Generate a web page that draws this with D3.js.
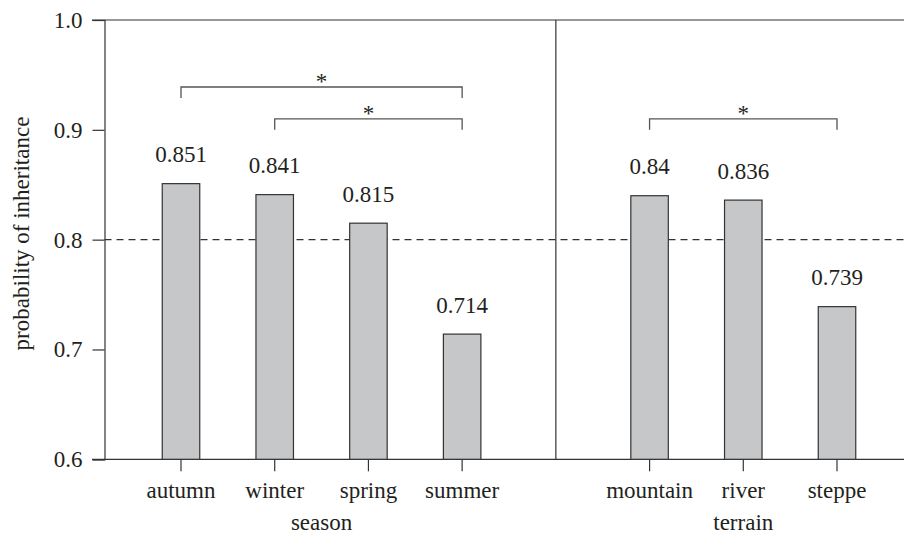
<!DOCTYPE html>
<html>
<head>
<meta charset="utf-8">
<script src="https://cdn.jsdelivr.net/npm/d3@7"></script>
<style>
  body { margin: 0; background: #fff; }
</style>
</head>
<body>
<div id="chart"></div>
<script>
// Inheritance probability by season and by terrain

var categories = ["autumn", "winter", "spring", "summer", "", "mountain", "river", "steppe"];
var seasons = ["autumn", "winter", "spring", "summer"];
var seasonValues = [0.851, 0.841, 0.815, 0.714];
var terrains = ["mountain", "river", "steppe"];
var terrainValues = [0.84, 0.836, 0.739];
var yTicks = [0.6, 0.7, 0.8, 0.9, 1.0];
var threshold = 0.8;
// significance brackets: [from, to]
var brackets = [["autumn", "summer"], ["winter", "summer"], ["mountain", "steppe"]];
var bracketLevels = [0.939, 0.910, 0.910];

var FONT = "'Liberation Serif', Tinos, 'Times New Roman', serif";
var FS = 23;
var width = 904, height = 535;
var svg = d3.select("#chart").append("svg")
  .attr("width", width)
  .attr("height", height)
  .style("font-family", FONT);

var x = d3.scalePoint().domain(categories).range([181, 837]);
var y = d3.scaleLinear().domain([0.6, 1.0]).range([459.3, 20]);
var barW = 37.5;
var axisX = 104.5;

var bars = seasons.map(function(s, i) { return {name: s, value: seasonValues[i]}; })
  .concat(terrains.map(function(t, i) { return {name: t, value: terrainValues[i]}; }));

function label(sel) {
  return sel.style("font-family", FONT).attr("font-size", FS).attr("fill", "#231f20");
}

// frame lines: top and bottom run to the right edge
svg.append("line").attr("x1", 92).attr("x2", width).attr("y1", y(1.0)).attr("y2", y(1.0))
  .attr("stroke", "#333").attr("stroke-width", 1.2);
svg.append("line").attr("x1", 92).attr("x2", width).attr("y1", y(0.6)).attr("y2", y(0.6))
  .attr("stroke", "#333").attr("stroke-width", 1.2);

// y axis
var yAxis = d3.axisLeft(y).tickValues(yTicks).tickFormat(d3.format(".1f")).tickSize(12).tickPadding(10);
var gy = svg.append("g").attr("transform", "translate(" + axisX + ",0)").call(yAxis);
gy.attr("font-family", null);
gy.select(".domain").attr("stroke", "#333").attr("stroke-width", 1.2);
gy.selectAll(".tick line").attr("stroke", "#333").attr("stroke-width", 1.2);
label(gy.selectAll(".tick text"));

// divider between the two panels
svg.append("line").attr("x1", x("")).attr("x2", x(""))
  .attr("y1", y(1.0)).attr("y2", y(0.6))
  .attr("stroke", "#333").attr("stroke-width", 1.2);

// dashed reference line
svg.append("line").attr("x1", axisX).attr("x2", width)
  .attr("y1", y(threshold)).attr("y2", y(threshold))
  .attr("stroke", "#333").attr("stroke-width", 1.2)
  .attr("stroke-dasharray", "7,5");

// bars
svg.selectAll("rect.bar").data(bars).enter().append("rect")
  .attr("class", "bar")
  .attr("x", function(d) { return x(d.name) - barW / 2; })
  .attr("y", function(d) { return y(d.value); })
  .attr("width", barW)
  .attr("height", function(d) { return y(0.6) - y(d.value); })
  .attr("fill", "#c6c7c9")
  .attr("stroke", "#333")
  .attr("stroke-width", 1.2);

// value labels
label(svg.selectAll("text.val").data(bars).enter().append("text")
  .attr("class", "val")
  .attr("x", function(d) { return x(d.name); })
  .attr("y", function(d) { return y(d.value) - 21.5; })
  .attr("text-anchor", "middle"))
  .text(function(d) { return String(d.value); });

// x ticks and labels
var xTicks = svg.selectAll("g.xt").data(seasons.concat(terrains)).enter().append("g")
  .attr("class", "xt")
  .attr("transform", function(d) { return "translate(" + x(d) + "," + y(0.6) + ")"; });
xTicks.append("line").attr("y1", 0).attr("y2", 12).attr("stroke", "#333").attr("stroke-width", 1.2);
label(xTicks.append("text").attr("y", 39).attr("text-anchor", "middle"))
  .text(function(d) { return d; });

// group titles
label(svg.append("text").attr("x", (x("autumn") + x("summer")) / 2).attr("y", 530)
  .attr("text-anchor", "middle")).text("season");
label(svg.append("text").attr("x", x("river")).attr("y", 530)
  .attr("text-anchor", "middle")).text("terrain");

// y axis title
label(svg.append("text")
  .attr("transform", "translate(29,233.5) rotate(-90)")
  .attr("text-anchor", "middle"))
  .text("probability of inheritance");

// significance brackets
brackets.forEach(function(b, i) {
  var x1 = x(b[0]), x2 = x(b[1]), yy = y(bracketLevels[i]);
  svg.append("path")
    .attr("d", "M" + x1 + "," + (yy + 11) + "V" + yy + "H" + x2 + "V" + (yy + 11))
    .attr("fill", "none").attr("stroke", "#555").attr("stroke-width", 1.3);
  label(svg.append("text").attr("x", (x1 + x2) / 2).attr("y", yy + 2)
    .attr("text-anchor", "middle")).text("*");
});
</script>
</body>
</html>
